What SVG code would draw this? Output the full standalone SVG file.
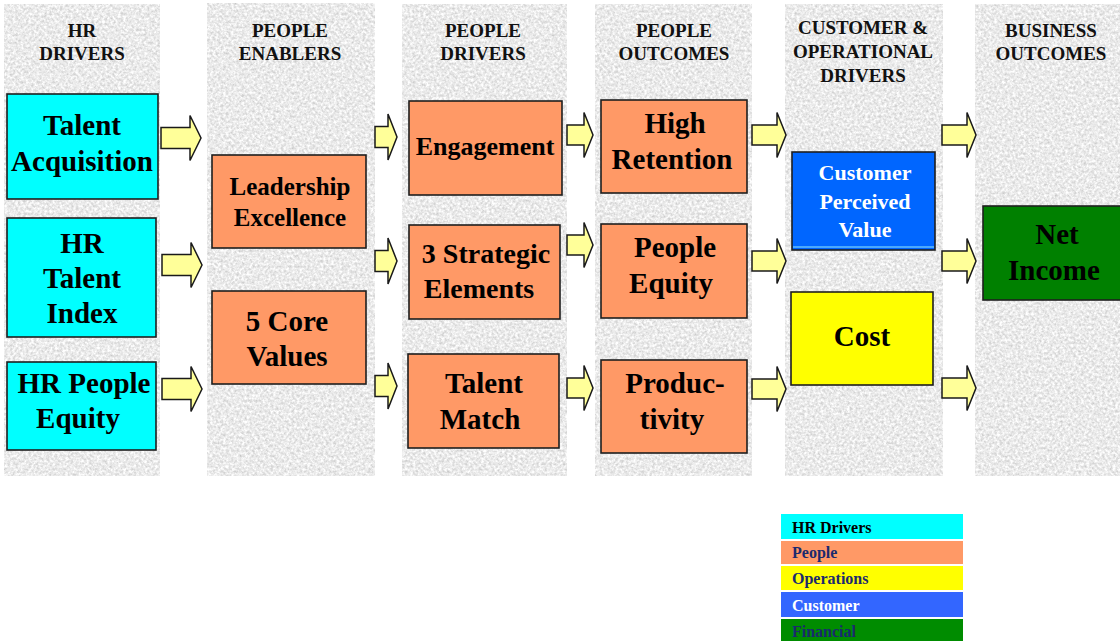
<svg xmlns="http://www.w3.org/2000/svg" width="1120" height="641" viewBox="0 0 1120 641">
  <defs>
    <!-- speckled granite texture for the column panels -->
    <filter id="granite" x="0" y="0" width="100%" height="100%" color-interpolation-filters="sRGB">
      <feTurbulence type="fractalNoise" baseFrequency="0.38" numOctaves="4" seed="7" result="noise"/>
      <feColorMatrix in="noise" type="matrix" values="0.32 0 0 0 0.76  0.32 0 0 0 0.76  0.32 0 0 0 0.76  0 0 0 0 1" result="gray"/>
      <feComposite in="gray" in2="SourceGraphic" operator="in"/>
    </filter>
    <style>
      .col { fill: #e6e6e6; filter: url(#granite); }
      .head { font-family: "Liberation Serif", "Times New Roman", serif; font-weight: bold; font-size: 19px; fill: #111; text-anchor: middle; }
      .box { stroke: #1e1e1e; stroke-width: 1.6; }
      .hr { fill: #00ffff; }
      .ppl { fill: #ff9966; }
      .cust { fill: #0066ff; }
      .ops { fill: #ffff00; }
      .fin { fill: #008000; }
      .lbl { font-family: "Liberation Serif", "Times New Roman", serif; font-weight: bold; font-size: 29px; fill: #000; text-anchor: middle; }
      .arrow { fill: #ffff99; stroke: #1a1a1a; stroke-width: 1.5; stroke-linejoin: miter; }
      .key { font-family: "Liberation Serif", "Times New Roman", serif; font-weight: bold; font-size: 16px; fill: #1a2a6e; }
    </style>
  </defs>

  <rect width="1120" height="641" fill="#ffffff"/>

  <!-- column panels -->
  <g id="columns">
    <rect class="col" x="4" y="4" width="156" height="472"/>
    <rect class="col" x="207" y="3" width="168" height="473"/>
    <rect class="col" x="402" y="4" width="165" height="472"/>
    <rect class="col" x="595" y="4" width="157" height="472"/>
    <rect class="col" x="785" y="4" width="158" height="472"/>
    <rect class="col" x="975" y="4" width="145" height="472"/>
  </g>

  <!-- column headings -->
  <g id="headings">
    <text class="head" x="82" y="37">HR</text>
    <text class="head" x="82" y="60">DRIVERS</text>
    <text class="head" x="290" y="37">PEOPLE</text>
    <text class="head" x="290" y="60">ENABLERS</text>
    <text class="head" x="483" y="37">PEOPLE</text>
    <text class="head" x="483" y="60">DRIVERS</text>
    <text class="head" x="674" y="37">PEOPLE</text>
    <text class="head" x="674" y="60">OUTCOMES</text>
    <text class="head" x="863" y="34">CUSTOMER &amp;</text>
    <text class="head" x="863" y="58">OPERATIONAL</text>
    <text class="head" x="863" y="82">DRIVERS</text>
    <text class="head" x="1051" y="37">BUSINESS</text>
    <text class="head" x="1051" y="60">OUTCOMES</text>
  </g>

  <!-- block arrows between columns -->
  <g id="connectors">
    <path class="arrow" d="M161 127.5H190V115.5L201 138L190 160.5V148.5H161Z"/>
    <path class="arrow" d="M162 254.5H191V242.5L202 265L191 287.5V275.5H162Z"/>
    <path class="arrow" d="M162 378.5H191V366.5L202 389L191 411.5V399.5H162Z"/>

    <path class="arrow" d="M375 126.5H388V114L397 137L388 160V147.5H375Z"/>
    <path class="arrow" d="M375 250.5H388V238L397 261L388 284V271.5H375Z"/>
    <path class="arrow" d="M375 375.5H388V363L397 386L388 409V396.5H375Z"/>

    <path class="arrow" d="M567 125H584V112.5L593 135L584 157.5V145H567Z"/>
    <path class="arrow" d="M567 235H584V222.5L593 245L584 267.5V255H567Z"/>
    <path class="arrow" d="M567 378H584V365.5L593 388L584 410.5V398H567Z"/>

    <path class="arrow" d="M752 125H777V112.5L786 135L777 157.5V145H752Z"/>
    <path class="arrow" d="M752 251H777V238.5L786 261L777 283.5V271H752Z"/>
    <path class="arrow" d="M752 379H777V366.5L786 389L777 411.5V399H752Z"/>

    <path class="arrow" d="M942 125H967V112.5L976 135L967 157.5V145H942Z"/>
    <path class="arrow" d="M942 251H967V238.5L976 261L967 283.5V271H942Z"/>
    <path class="arrow" d="M942 378H967V365.5L976 388L967 410.5V398H942Z"/>
  </g>

  <!-- HR drivers -->
  <g id="talent-acquisition">
    <rect class="box hr" x="7" y="94" width="151" height="105"/>
    <text class="lbl" x="82" y="135">Talent</text>
    <text class="lbl" x="82" y="171">Acquisition</text>
  </g>
  <g id="hr-talent-index">
    <rect class="box hr" x="7" y="218" width="149" height="119"/>
    <text class="lbl" x="82" y="253">HR</text>
    <text class="lbl" x="82" y="288">Talent</text>
    <text class="lbl" x="82" y="323">Index</text>
  </g>
  <g id="hr-people-equity">
    <rect class="box hr" x="7" y="362" width="149" height="88"/>
    <text class="lbl" x="84" y="393">HR People</text>
    <text class="lbl" x="78" y="428">Equity</text>
  </g>

  <!-- people enablers -->
  <g id="leadership-excellence">
    <rect class="box ppl" x="212" y="155" width="154" height="93"/>
    <text class="lbl" x="290" y="195" style="font-size:25px">Leadership</text>
    <text class="lbl" x="290" y="226" style="font-size:25px">Excellence</text>
  </g>
  <g id="core-values">
    <rect class="box ppl" x="212" y="291" width="154" height="93"/>
    <text class="lbl" x="287" y="331">5 Core</text>
    <text class="lbl" x="287" y="366">Values</text>
  </g>

  <!-- people drivers -->
  <g id="engagement">
    <rect class="box ppl" x="409" y="101" width="153" height="94"/>
    <text class="lbl" x="485" y="155" style="font-size:26px">Engagement</text>
  </g>
  <g id="strategic-elements">
    <rect class="box ppl" x="409" y="225" width="151" height="94"/>
    <text class="lbl" x="486" y="263" style="font-size:28px">3 Strategic</text>
    <text class="lbl" x="479" y="298" style="font-size:28px">Elements</text>
  </g>
  <g id="talent-match">
    <rect class="box ppl" x="408" y="354" width="151" height="94"/>
    <text class="lbl" x="484" y="393">Talent</text>
    <text class="lbl" x="480" y="429">Match</text>
  </g>

  <!-- people outcomes -->
  <g id="high-retention">
    <rect class="box ppl" x="601" y="100" width="146" height="93"/>
    <text class="lbl" x="675" y="133">High</text>
    <text class="lbl" x="672" y="169">Retention</text>
  </g>
  <g id="people-equity">
    <rect class="box ppl" x="601" y="224" width="146" height="94"/>
    <text class="lbl" x="675" y="257">People</text>
    <text class="lbl" x="671" y="293">Equity</text>
  </g>
  <g id="productivity">
    <rect class="box ppl" x="601" y="360" width="146" height="93"/>
    <text class="lbl" x="675" y="393">Produc-</text>
    <text class="lbl" x="672" y="429">tivity</text>
  </g>

  <!-- customer & operational drivers -->
  <g id="customer-perceived-value">
    <rect class="box cust" x="792" y="152" width="143" height="98"/>
    <line x1="793" y1="247" x2="934" y2="247" stroke="#4aa8ff" stroke-width="2"/>
    <text class="lbl" x="865" y="180" style="font-size:22px;fill:#ffffff">Customer</text>
    <text class="lbl" x="865" y="209" style="font-size:22px;fill:#ffffff">Perceived</text>
    <text class="lbl" x="865" y="237" style="font-size:22px;fill:#ffffff">Value</text>
  </g>
  <g id="cost">
    <rect class="box ops" x="791" y="292" width="142" height="93"/>
    <text class="lbl" x="862" y="346">Cost</text>
  </g>

  <!-- business outcomes -->
  <g id="net-income">
    <rect class="box fin" x="983" y="206" width="139" height="94"/>
    <text class="lbl" x="1057" y="244">Net</text>
    <text class="lbl" x="1054" y="280">Income</text>
  </g>

  <!-- colour key -->
  <g id="legend">
    <rect x="781" y="514" width="182" height="25" fill="#00ffff"/>
    <rect x="781" y="541" width="182" height="23" fill="#ff9966"/>
    <rect x="781" y="566" width="182" height="24" fill="#ffff00"/>
    <rect x="781" y="592" width="182" height="25" fill="#3366ff"/>
    <rect x="781" y="619" width="182" height="22" fill="#008c00"/>
    <text class="key" x="792" y="533" style="fill:#000">HR Drivers</text>
    <text class="key" x="792" y="558">People</text>
    <text class="key" x="792" y="584">Operations</text>
    <text class="key" x="792" y="611" style="fill:#ffffff">Customer</text>
    <text class="key" x="792" y="637">Financial</text>
  </g>
</svg>
